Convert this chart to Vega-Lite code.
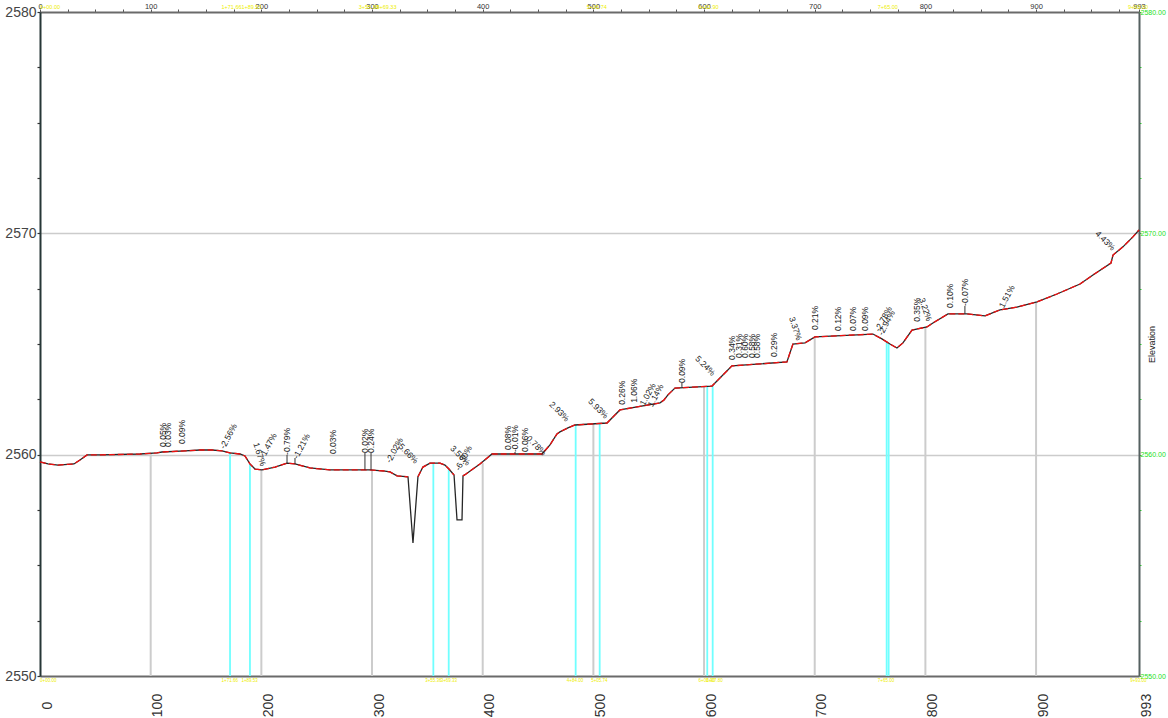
{
  "$schema": "https://vega.github.io/schema/vega-lite/v6.json",
  "width": 1099,
  "height": 664,
  "autosize": "none",
  "padding": {"left": 40, "top": 12, "right": 29, "bottom": 42},
  "background": "white",
  "config": {"view": {"stroke": null}, "font": "Liberation Sans"},
  "datasets": {
    "profile": [
      {"s": 0, "e": 2559.67, "seg": 1},
      {"s": 7.2, "e": 2559.58, "seg": 1},
      {"s": 16.3, "e": 2559.53, "seg": 1},
      {"s": 30.7, "e": 2559.58, "seg": 1},
      {"s": 36.1, "e": 2559.76, "seg": 1},
      {"s": 42.5, "e": 2559.99, "seg": 1},
      {"s": 54.2, "e": 2559.99, "seg": 1},
      {"s": 90.4, "e": 2560.03, "seg": 1},
      {"s": 105.7, "e": 2560.08, "seg": 1},
      {"s": 110.2, "e": 2560.12, "seg": 1},
      {"s": 131.0, "e": 2560.17, "seg": 1},
      {"s": 144.6, "e": 2560.21, "seg": 1},
      {"s": 155.4, "e": 2560.21, "seg": 1},
      {"s": 164.4, "e": 2560.17, "seg": 1},
      {"s": 171.7, "e": 2560.08, "seg": 1},
      {"s": 180.7, "e": 2560.03, "seg": 1},
      {"s": 185.2, "e": 2559.94, "seg": 1},
      {"s": 189.7, "e": 2559.58, "seg": 1},
      {"s": 194.3, "e": 2559.35, "seg": 1},
      {"s": 200.6, "e": 2559.31, "seg": 1},
      {"s": 212.4, "e": 2559.44, "seg": 1},
      {"s": 223.2, "e": 2559.62, "seg": 1},
      {"s": 230.4, "e": 2559.58, "seg": 1},
      {"s": 243.9, "e": 2559.4, "seg": 1},
      {"s": 262.0, "e": 2559.31, "seg": 1},
      {"s": 298.2, "e": 2559.31, "seg": 1},
      {"s": 311.7, "e": 2559.26, "seg": 1},
      {"s": 316.2, "e": 2559.22, "seg": 1},
      {"s": 322.6, "e": 2559.04, "seg": 1},
      {"s": 332.5, "e": 2559.0, "seg": 1},
      {"s": 337.0, "e": 2556.01, "seg": 0},
      {"s": 341.5, "e": 2559.0, "seg": 2},
      {"s": 346.0, "e": 2559.44, "seg": 2},
      {"s": 352.4, "e": 2559.62, "seg": 2},
      {"s": 361.4, "e": 2559.62, "seg": 2},
      {"s": 365.9, "e": 2559.53, "seg": 2},
      {"s": 369.5, "e": 2559.35, "seg": 2},
      {"s": 374.1, "e": 2559.08, "seg": 2},
      {"s": 376.8, "e": 2557.05, "seg": 0},
      {"s": 381.3, "e": 2557.05, "seg": 0},
      {"s": 382.2, "e": 2559.04, "seg": 3},
      {"s": 384.9, "e": 2559.13, "seg": 3},
      {"s": 397.5, "e": 2559.58, "seg": 3},
      {"s": 408.4, "e": 2560.03, "seg": 3},
      {"s": 453.6, "e": 2560.03, "seg": 3},
      {"s": 460.8, "e": 2560.44, "seg": 3},
      {"s": 467.1, "e": 2560.94, "seg": 3},
      {"s": 469.8, "e": 2561.03, "seg": 3},
      {"s": 477.0, "e": 2561.21, "seg": 3},
      {"s": 483.4, "e": 2561.34, "seg": 3},
      {"s": 512.3, "e": 2561.43, "seg": 3},
      {"s": 524.0, "e": 2562.02, "seg": 3},
      {"s": 560.2, "e": 2562.34, "seg": 3},
      {"s": 563.8, "e": 2562.47, "seg": 3},
      {"s": 567.4, "e": 2562.7, "seg": 3},
      {"s": 573.7, "e": 2563.01, "seg": 3},
      {"s": 607.2, "e": 2563.1, "seg": 3},
      {"s": 625.2, "e": 2564.01, "seg": 3},
      {"s": 674.9, "e": 2564.19, "seg": 3},
      {"s": 680.3, "e": 2565.0, "seg": 3},
      {"s": 691.2, "e": 2565.05, "seg": 3},
      {"s": 700.2, "e": 2565.32, "seg": 3},
      {"s": 752.6, "e": 2565.45, "seg": 3},
      {"s": 760.7, "e": 2565.23, "seg": 3},
      {"s": 768.0, "e": 2565.0, "seg": 3},
      {"s": 774.3, "e": 2564.82, "seg": 3},
      {"s": 779.7, "e": 2565.05, "seg": 3},
      {"s": 787.9, "e": 2565.63, "seg": 3},
      {"s": 801.4, "e": 2565.77, "seg": 3},
      {"s": 806.8, "e": 2565.95, "seg": 3},
      {"s": 820.4, "e": 2566.36, "seg": 3},
      {"s": 837.5, "e": 2566.36, "seg": 3},
      {"s": 853.8, "e": 2566.27, "seg": 3},
      {"s": 867.4, "e": 2566.54, "seg": 3},
      {"s": 882.7, "e": 2566.67, "seg": 3},
      {"s": 900.8, "e": 2566.9, "seg": 3},
      {"s": 918.9, "e": 2567.26, "seg": 3},
      {"s": 939.7, "e": 2567.71, "seg": 3},
      {"s": 951.4, "e": 2568.12, "seg": 3},
      {"s": 967.7, "e": 2568.66, "seg": 3},
      {"s": 969.5, "e": 2569.02, "seg": 3},
      {"s": 978.5, "e": 2569.39, "seg": 3},
      {"s": 987.5, "e": 2569.84, "seg": 3},
      {"s": 993.0, "e": 2570.15, "seg": 3}
    ],
    "stations": [
      {"s": 100, "e": 2560.08},
      {"s": 200, "e": 2559.31},
      {"s": 300, "e": 2559.31},
      {"s": 400, "e": 2559.62},
      {"s": 500, "e": 2561.39},
      {"s": 600, "e": 2563.06},
      {"s": 700, "e": 2565.32},
      {"s": 800, "e": 2565.77},
      {"s": 900, "e": 2566.9}
    ],
    "curvePoints": [
      {"s": 171.7, "e": 2560.08},
      {"s": 189.7, "e": 2559.58},
      {"s": 355.4, "e": 2559.62},
      {"s": 369.3, "e": 2559.35},
      {"s": 484.0, "e": 2561.34},
      {"s": 505.7, "e": 2561.41},
      {"s": 602.9, "e": 2563.08},
      {"s": 607.8, "e": 2563.1},
      {"s": 765.0, "e": 2565.1},
      {"s": 766.8, "e": 2565.0}
    ],
    "leaders": [
      {"s": 223.2, "e": 2559.62, "e2": 2559.99},
      {"s": 230.4, "e": 2559.58, "e2": 2559.85},
      {"s": 293.6, "e": 2559.31, "e2": 2560.08},
      {"s": 299.1, "e": 2559.31, "e2": 2560.08},
      {"s": 429.2, "e": 2560.03, "e2": 2560.12},
      {"s": 580.0, "e": 2563.06, "e2": 2563.24},
      {"s": 835.7, "e": 2566.36, "e2": 2566.72}
    ],
    "gradesVertical": [
      {"s": 111.1, "e": 2560.35, "t": "0.05%"},
      {"s": 115.6, "e": 2560.35, "t": "0.03%"},
      {"s": 128.3, "e": 2560.48, "t": "0.09%"},
      {"s": 223.2, "e": 2559.99, "t": "-0.79%"},
      {"s": 264.7, "e": 2560.03, "t": "0.03%"},
      {"s": 293.6, "e": 2560.08, "t": "0.02%"},
      {"s": 299.1, "e": 2560.08, "t": "0.24%"},
      {"s": 422.8, "e": 2560.21, "t": "0.08%"},
      {"s": 429.2, "e": 2560.12, "t": "-0.01%"},
      {"s": 438.2, "e": 2560.12, "t": "0.06%"},
      {"s": 525.8, "e": 2562.25, "t": "0.26%"},
      {"s": 536.7, "e": 2562.34, "t": "1.06%"},
      {"s": 580.0, "e": 2563.24, "t": "0.09%"},
      {"s": 625.2, "e": 2564.28, "t": "0.34%"},
      {"s": 631.5, "e": 2564.37, "t": "0.31%"},
      {"s": 637.0, "e": 2564.37, "t": "0.60%"},
      {"s": 643.3, "e": 2564.37, "t": "0.58%"},
      {"s": 647.8, "e": 2564.37, "t": "0.58%"},
      {"s": 663.2, "e": 2564.41, "t": "0.29%"},
      {"s": 700.2, "e": 2565.63, "t": "0.21%"},
      {"s": 721.0, "e": 2565.59, "t": "0.12%"},
      {"s": 734.5, "e": 2565.59, "t": "0.07%"},
      {"s": 745.4, "e": 2565.59, "t": "0.09%"},
      {"s": 792.4, "e": 2566.0, "t": "0.35%"},
      {"s": 822.2, "e": 2566.63, "t": "0.10%"},
      {"s": 835.7, "e": 2566.72, "t": "-0.07%"}
    ],
    "gradesRising": [
      {"s": 164.4, "e": 2560.3, "t": "-2.56%"},
      {"s": 201.5, "e": 2559.99, "t": "1.47%"},
      {"s": 230.4, "e": 2559.85, "t": "-1.21%"},
      {"s": 314.4, "e": 2559.67, "t": "-2.02%"},
      {"s": 376.8, "e": 2559.31, "t": "-6.30%"},
      {"s": 543.9, "e": 2562.25, "t": "1.02%"},
      {"s": 551.1, "e": 2562.2, "t": "1.14%"},
      {"s": 756.2, "e": 2565.6, "t": "-2.78%"},
      {"s": 759.0, "e": 2565.42, "t": "-2.94%"},
      {"s": 868.3, "e": 2566.67, "t": "1.51%"}
    ],
    "gradesFalling": [
      {"s": 323.5, "e": 2560.53, "t": "-5.66%"},
      {"s": 372.2, "e": 2560.35, "t": "3.56%"},
      {"s": 440.9, "e": 2560.8, "t": "0.78%"},
      {"s": 461.7, "e": 2562.34, "t": "2.93%"},
      {"s": 496.9, "e": 2562.47, "t": "5.93%"},
      {"s": 593.6, "e": 2564.41, "t": "5.24%"},
      {"s": 955.0, "e": 2570.06, "t": "4.43%"}
    ],
    "gradesSteep": [
      {"s": 195.2, "e": 2560.53, "t": "1.67%"},
      {"s": 679.4, "e": 2566.22, "t": "3.37%"},
      {"s": 796.9, "e": 2567.08, "t": "3.22%"}
    ],
    "staTop": [
      {"s": 0, "t": "0+00.00"},
      {"s": 164, "t": "1+71.66"},
      {"s": 182, "t": "1+89.53"},
      {"s": 288, "t": "3+55.36"},
      {"s": 304, "t": "3+69.33"},
      {"s": 494, "t": "5+05.74"},
      {"s": 595, "t": "6+02.90"},
      {"s": 757, "t": "7+65.00"},
      {"s": 983, "t": "9+93.00"}
    ],
    "staBottom": [
      {"s": 0, "t": "0+00.00"},
      {"s": 164, "t": "1+71.66"},
      {"s": 182, "t": "1+89.53"},
      {"s": 348, "t": "3+55.36"},
      {"s": 362, "t": "3+69.33"},
      {"s": 476, "t": "4+84.00"},
      {"s": 498, "t": "5+05.74"},
      {"s": 595, "t": "6+02.90"},
      {"s": 602, "t": "6+07.80"},
      {"s": 757, "t": "7+65.00"},
      {"s": 985, "t": "9+93.00"}
    ]
  },
  "resolve": {"axis": {"x": "independent", "y": "independent"}},
  "layer": [
    {
      "data": {"name": "stations"},
      "mark": {"type": "rule", "color": "#cccccc", "strokeWidth": 2},
      "encoding": {
        "x": {
          "field": "s", "type": "quantitative",
          "scale": {"domain": [0, 993], "nice": false, "zero": false},
          "axis": {
            "orient": "bottom", "title": null, "grid": false,
            "values": [0, 100, 200, 300, 400, 500, 600, 700, 800, 900, 993],
            "labelAngle": 270, "labelAlign": "center", "labelBaseline": "top",
            "labelPadding": 29, "ticks": false, "tickSize": 0,
            "labelFontSize": 14, "labelColor": "#333333",
            "labelFlush": false, "labelOverlap": false,
            "domainColor": "#6a6a6a", "domainWidth": 2
          }
        },
        "y": {
          "field": "e", "type": "quantitative",
          "scale": {"domain": [2550, 2580], "nice": false, "zero": false},
          "axis": {
            "orient": "left", "title": null,
            "values": [2550, 2552.5, 2555, 2557.5, 2560, 2562.5, 2565, 2567.5, 2570, 2572.5, 2575, 2577.5, 2580],
            "labelExpr": "datum.value % 10 == 0 ? format(datum.value, 'd') : ''",
            "labelFontSize": 14, "labelColor": "#444444", "labelPadding": 1,
            "labelFlush": false, "labelOverlap": false,
            "tickSize": 3, "tickColor": "#333333", "tickWidth": 1.2,
            "domainColor": "#263636", "domainWidth": 2,
            "grid": true, "gridColor": "#cccccc", "gridWidth": 1.5,
            "gridOpacity": {"condition": {"test": "datum.value == 2560 || datum.value == 2570", "value": 1}, "value": 0}
          }
        },
        "y2": {"datum": 2550}
      }
    },
    {
      "data": {"name": "curvePoints"},
      "mark": {"type": "rule", "color": "#70ffff", "strokeWidth": 1.8},
      "encoding": {
        "x": {"field": "s", "type": "quantitative", "scale": {"domain": [0, 993], "nice": false, "zero": false}, "axis": null},
        "y": {"field": "e", "type": "quantitative", "scale": {"domain": [2550, 2580], "nice": false, "zero": false}, "axis": null},
        "y2": {"datum": 2550}
      }
    },
    {
      "data": {"name": "profile"},
      "mark": {"type": "line", "color": "#262626", "strokeWidth": 1.3},
      "encoding": {
        "x": {
          "field": "s", "type": "quantitative",
          "scale": {"domain": [0, 993], "nice": false, "zero": false},
          "axis": {
            "orient": "top", "title": null, "grid": false,
            "values": [0, 25, 50, 75, 100, 125, 150, 175, 200, 225, 250, 275, 300, 325, 350, 375, 400, 425, 450, 475, 500, 525, 550, 575, 600, 625, 650, 675, 700, 725, 750, 775, 800, 825, 850, 875, 900, 925, 950, 975, 993],
            "labelExpr": "datum.value % 100 == 0 || datum.value == 993 ? format(datum.value, 'd') : ''",
            "labelFontSize": 7.5, "labelColor": "#333333", "labelPadding": -1,
            "labelFlush": false, "labelOverlap": false,
            "tickSize": 3, "tickColor": "#555555",
            "domainColor": "#6a6a6a", "domainWidth": 2
          }
        },
        "y": {
          "field": "e", "type": "quantitative",
          "scale": {"domain": [2550, 2580], "nice": false, "zero": false},
          "axis": {
            "orient": "right", "grid": false,
            "values": [2550, 2552.5, 2555, 2557.5, 2560, 2562.5, 2565, 2567.5, 2570, 2572.5, 2575, 2577.5, 2580],
            "labelExpr": "datum.value % 10 == 0 ? format(datum.value, '.2f') : ''",
            "labelFontSize": 7, "labelColor": "#22e022", "labelPadding": -1,
            "labelFlush": false, "labelOverlap": false,
            "tickSize": 2, "tickColor": "#22e022",
            "domainColor": "#556060", "domainWidth": 2,
            "title": "Elevation", "titleFontSize": 9, "titleFontWeight": "normal",
            "titleColor": "#222222", "titleAngle": 270, "titleX": 12, "titleY": 332,
            "titleAlign": "center", "titleBaseline": "middle"
          }
        },
        "order": {"field": "s", "type": "quantitative"}
      }
    },
    {
      "data": {"name": "profile"},
      "transform": [{"filter": "datum.seg > 0"}],
      "mark": {"type": "line", "color": "#f01010", "strokeWidth": 1.3, "strokeDash": [6, 3]},
      "encoding": {
        "x": {"field": "s", "type": "quantitative", "scale": {"domain": [0, 993], "nice": false, "zero": false}, "axis": null},
        "y": {"field": "e", "type": "quantitative", "scale": {"domain": [2550, 2580], "nice": false, "zero": false}, "axis": null},
        "detail": {"field": "seg", "type": "nominal"},
        "order": {"field": "s", "type": "quantitative"}
      }
    },
    {
      "data": {"name": "leaders"},
      "mark": {"type": "rule", "color": "#333333", "strokeWidth": 1},
      "encoding": {
        "x": {"field": "s", "type": "quantitative", "scale": {"domain": [0, 993], "nice": false, "zero": false}, "axis": null},
        "y": {"field": "e", "type": "quantitative", "scale": {"domain": [2550, 2580], "nice": false, "zero": false}, "axis": null},
        "y2": {"field": "e2"}
      }
    },
    {
      "data": {"name": "gradesVertical"},
      "mark": {"type": "text", "angle": 270, "align": "left", "baseline": "middle", "fontSize": 8.5, "color": "#222222"},
      "encoding": {
        "x": {"field": "s", "type": "quantitative", "scale": {"domain": [0, 993], "nice": false, "zero": false}, "axis": null},
        "y": {"field": "e", "type": "quantitative", "scale": {"domain": [2550, 2580], "nice": false, "zero": false}, "axis": null},
        "text": {"field": "t"}
      }
    },
    {
      "data": {"name": "gradesRising"},
      "mark": {"type": "text", "angle": 298, "align": "left", "baseline": "middle", "fontSize": 8.5, "color": "#222222"},
      "encoding": {
        "x": {"field": "s", "type": "quantitative", "scale": {"domain": [0, 993], "nice": false, "zero": false}, "axis": null},
        "y": {"field": "e", "type": "quantitative", "scale": {"domain": [2550, 2580], "nice": false, "zero": false}, "axis": null},
        "text": {"field": "t"}
      }
    },
    {
      "data": {"name": "gradesFalling"},
      "mark": {"type": "text", "angle": 45, "align": "left", "baseline": "middle", "fontSize": 8.5, "color": "#222222"},
      "encoding": {
        "x": {"field": "s", "type": "quantitative", "scale": {"domain": [0, 993], "nice": false, "zero": false}, "axis": null},
        "y": {"field": "e", "type": "quantitative", "scale": {"domain": [2550, 2580], "nice": false, "zero": false}, "axis": null},
        "text": {"field": "t"}
      }
    },
    {
      "data": {"name": "gradesSteep"},
      "mark": {"type": "text", "angle": 72, "align": "left", "baseline": "middle", "fontSize": 8.5, "color": "#222222"},
      "encoding": {
        "x": {"field": "s", "type": "quantitative", "scale": {"domain": [0, 993], "nice": false, "zero": false}, "axis": null},
        "y": {"field": "e", "type": "quantitative", "scale": {"domain": [2550, 2580], "nice": false, "zero": false}, "axis": null},
        "text": {"field": "t"}
      }
    },
    {
      "data": {"name": "staTop"},
      "mark": {"type": "text", "align": "left", "baseline": "middle", "dy": -5, "fontSize": 5.5, "color": "#eeee00"},
      "encoding": {
        "x": {"field": "s", "type": "quantitative", "scale": {"domain": [0, 993], "nice": false, "zero": false}, "axis": null},
        "y": {"datum": 2580, "type": "quantitative", "scale": {"domain": [2550, 2580], "nice": false, "zero": false}, "axis": null},
        "text": {"field": "t"}
      }
    },
    {
      "data": {"name": "staBottom"},
      "mark": {"type": "text", "align": "left", "baseline": "middle", "dy": 5, "fontSize": 4.5, "color": "#eeee00"},
      "encoding": {
        "x": {"field": "s", "type": "quantitative", "scale": {"domain": [0, 993], "nice": false, "zero": false}, "axis": null},
        "y": {"datum": 2550, "type": "quantitative", "scale": {"domain": [2550, 2580], "nice": false, "zero": false}, "axis": null},
        "text": {"field": "t"}
      }
    }
  ]
}
